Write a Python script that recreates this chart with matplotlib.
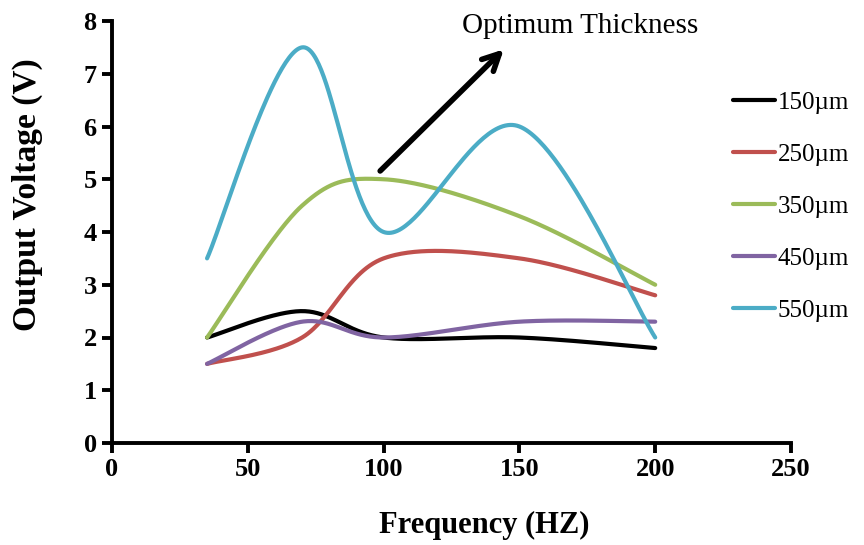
import numpy as np
import matplotlib
matplotlib.use("Agg")
import matplotlib.pyplot as plt

# ---- data ----
freq = [35, 70, 100, 150, 200]
v150 = [2.0, 2.5, 2.0, 2.0, 1.8]
v250 = [1.5, 2.0, 3.5, 3.5, 2.8]
v350 = [2.0, 4.5, 5.0, 4.3, 3.0]
v450 = [1.5, 2.3, 2.0, 2.3, 2.3]
v550 = [3.5, 7.5, 4.0, 6.0, 2.0]
labels = ["150\u00b5m", "250\u00b5m", "350\u00b5m", "450\u00b5m", "550\u00b5m"]
colors = ["#000000", "#C0504D", "#9BBB59", "#8064A2", "#4BACC6"]
xticks = [0, 50, 100, 150, 200, 250]
yticks = [0, 1, 2, 3, 4, 5, 6, 7, 8]

SERIF = "Liberation Serif"


def smooth(xs, ys, n=60):
    """Excel-like smoothed line: cubic Bezier through points (Catmull-Rom controls)."""
    P = np.column_stack([xs, ys]).astype(float)
    m = len(P)
    out = []
    t = np.linspace(0, 1, n)[:, None]
    for i in range(m - 1):
        p0 = P[i - 1] if i > 0 else P[i]
        p1 = P[i]
        p2 = P[i + 1]
        p3 = P[i + 2] if i + 2 < m else P[i + 1]
        c1 = p1 + (p2 - p0) / 6.0
        c2 = p2 - (p3 - p1) / 6.0
        seg = ((1 - t) ** 3) * p1 + 3 * ((1 - t) ** 2) * t * c1 + 3 * (1 - t) * t ** 2 * c2 + t ** 3 * p2
        out.append(seg if i == 0 else seg[1:])
    arr = np.vstack(out)
    return arr[:, 0], arr[:, 1]


W, H = 864, 545
fig = plt.figure(figsize=(W / 100, H / 100), dpi=100)
ax = fig.add_axes([112 / W, 1 - 443 / H, (791 - 112) / W, (443 - 21) / H])

handles = []
for ys, lab, col in zip([v150, v250, v350, v450, v550], labels, colors):
    sx, sy = smooth(freq, ys)
    h, = ax.plot(sx, sy, color=col, lw=3.0, solid_capstyle="round", label=lab)
    handles.append(h)

ax.set_xlim(0, 250)
ax.set_ylim(0, 8)
ax.set_xticks(xticks)
ax.set_yticks(yticks)
for s in ["top", "right"]:
    ax.spines[s].set_visible(False)
for s in ["left", "bottom"]:
    ax.spines[s].set_linewidth(2.8)
ax.tick_params(axis="both", direction="out", length=7, width=2.8, pad=4)
for lbl in ax.get_xticklabels() + ax.get_yticklabels():
    lbl.set_fontfamily(SERIF)
    lbl.set_fontweight("bold")
    lbl.set_fontsize(19)

ax.set_xlabel("Frequency (HZ)", fontfamily=SERIF, fontweight="bold", fontsize=22)
ax.set_ylabel("Output Voltage (V)", fontfamily=SERIF, fontweight="bold", fontsize=24)
ax.xaxis.set_label_coords((484 - 112) / (791 - 112), -(525 - 443) / (443 - 21))
ax.yaxis.set_label_coords(-(112 - 27) / (791 - 112), (443 - 195) / (443 - 21))
ax.xaxis.label.set_va("center")
ax.yaxis.label.set_va("center")

ax.annotate("", xy=(145, 7.5), xytext=(98, 5.12),
            arrowprops=dict(arrowstyle="->", lw=4, color="black", mutation_scale=30))
ax.text(172.5, 7.9, "Optimum Thickness", fontfamily=SERIF, fontsize=21,
        ha="center", va="center", clip_on=False)

fig.legend(handles=handles, labels=labels, loc="upper left",
           bbox_to_anchor=(710 / W, 1 - 69 / H), frameon=False,
           prop={"family": SERIF, "size": 18}, handlelength=1.7,
           handletextpad=0.1, labelspacing=1.18)

fig.savefig("out.png", dpi=100)
